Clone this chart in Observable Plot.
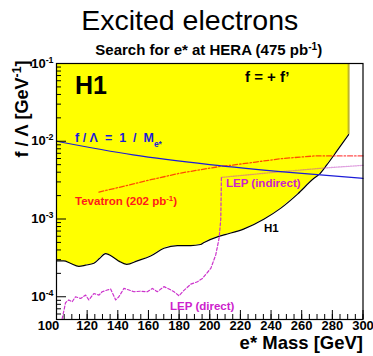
<!DOCTYPE html>
<html>
<head>
<meta charset="utf-8">
<script src="https://cdn.jsdelivr.net/npm/d3@7"></script>
<script src="https://cdn.jsdelivr.net/npm/@observablehq/plot@0.6"></script>
<style>
  html, body { margin: 0; padding: 0; background: white; }
  svg { display: block; }
</style>
</head>
<body>
<div id="chart"></div>
<script>
// ---- data ----
const h1Mass  = [100, 104.8, 109, 114.6, 119, 124.4, 128, 132, 137.5, 141, 145.8, 152.7, 161.4, 170.1, 178.9, 187.6, 194, 196.3, 205, 210, 222.4, 235.5, 246.4, 257.3, 268.2, 271, 276.5, 283, 290.6];
const h1Limit = [2.9e-4, 2.9e-4, 2.7e-4, 2.46e-4, 2.55e-4, 2.7e-4, 3.1e-4, 3.59e-4, 3.18e-4, 2.85e-4, 2.61e-4, 2.9e-4, 3.35e-4, 4.2e-4, 4.55e-4, 4.55e-4, 4.7e-4, 5.0e-4, 5.9e-4, 6.3e-4, 7.46e-4, 1.0e-3, 1.38e-3, 2.09e-3, 3.36e-3, 3.69e-3, 5.0e-3, 7.5e-3, 1.22e-2];

const blueMass  = [100, 150, 200, 250, 300];
const blueLimit = [0.01, 0.00667, 0.005, 0.004, 0.00333];

const tevMass  = [127.7, 143.6, 161.4, 181, 207.2, 213.7, 230, 246.4, 268.2, 300];
const tevLimit = [2.22e-3, 2.63e-3, 3.2e-3, 3.9e-3, 4.76e-3, 4.9e-3, 5.4e-3, 5.97e-3, 6.47e-3, 6.47e-3];

const lepIndMass  = [207.6, 240, 274.7, 300];
const lepIndLimit = [3.43e-3, 3.95e-3, 4.53e-3, 4.9e-3];

const lepDirMass  = [103.7, 105.9, 108, 110.2, 112.4, 115.7, 119, 121.1, 124.4, 127.7, 129.8, 133.1, 135.3, 138.6, 140.7, 144, 147.3, 150.5, 154.9, 159.3, 162.5, 165.8, 170.1, 173.4, 176.7, 179.9, 183, 187.6, 192, 195.2, 200.7, 203.9, 206.1, 207.2, 207.6];
const lepDirLimit = [5.2e-5, 8.4e-5, 9.1e-5, 8.6e-5, 1.0e-4, 9.5e-5, 1.05e-4, 9.1e-5, 1.1e-4, 1.05e-4, 1.16e-4, 1.22e-4, 1.26e-4, 9.1e-5, 1.0e-4, 1.28e-4, 1.22e-4, 1.16e-4, 1.18e-4, 1.16e-4, 1.28e-4, 1.16e-4, 1.35e-4, 1.26e-4, 1.16e-4, 1.03e-4, 1.2e-4, 1.45e-4, 1.56e-4, 1.72e-4, 2.32e-4, 3.45e-4, 5.66e-4, 1.0e-3, 3.43e-3];

const xDomain = [100, 300];
const yDomain = [5.1e-5, 0.1];
const xMajor = [100, 120, 140, 160, 180, 200, 220, 240, 260, 280, 300];
const xMinor = d3.range(100, 301, 5);
const yMajor = [1e-4, 1e-3, 1e-2, 1e-1];
const yMinor = [-5, -4, -3, -2].flatMap(k => d3.range(2, 10).map(m => m * Math.pow(10, k)));

const titleText = "Excited electrons";
const subtitleText = "Search for e* at HERA (475 pb^{-1})";
const xLabel = "e* Mass [GeV]";
const yLabel = "f / Λ [GeV^{-1}]";

// ---- tables built from the arrays ----
const zip = (xs, ys) => xs.map((m, i) => ({m, f: ys[i]}));
const h1 = zip(h1Mass, h1Limit);
const blue = zip(blueMass, blueLimit);
const tev = zip(tevMass, tevLimit);
const lepInd = zip(lepIndMass, lepIndLimit);
const lepDir = zip(lepDirMass, lepDirLimit);
const h1Edge = h1[h1.length - 1];

const W = 373, H = 356, mL = 56, mR = 10.5, mT = 63, mB = 37;
const innerW = W - mL - mR, innerH = H - mT - mB;
const font = "'Liberation Sans', Arial, Helvetica, sans-serif";
const supFmt = d => "10^{" + Math.round(Math.log10(d)) + "}";
const tickText = {tickSize: 0, tickPadding: 1, label: null, fontSize: 13, fontWeight: "bold", tickFormat: d => String(d)};

const chart = Plot.plot({
  width: W, height: H,
  marginLeft: mL, marginRight: mR, marginTop: mT, marginBottom: mB,
  x: {domain: xDomain, axis: null},
  y: {type: "log", domain: yDomain, axis: null},
  style: {fontFamily: font, background: "white", color: "black", overflow: "visible"},
  marks: [
    Plot.areaY(h1, {x: "m", y1: "f", y2: yDomain[1], fill: "#ffff00", curve: "monotone-x"}),
    Plot.ruleX([h1Edge], {x: "m", y1: "f", y2: yDomain[1], stroke: "#bdb42a", strokeWidth: 2}),
    Plot.line(h1, {x: "m", y: "f", stroke: "black", strokeWidth: 1.2, curve: "monotone-x"}),
    Plot.line(lepInd, {x: "m", y: "f", stroke: "#c040c0", strokeOpacity: 0.5, strokeWidth: 1.3, strokeDasharray: "1.2,1.2"}),
    Plot.line(tev, {x: "m", y: "f", stroke: "#ff0000", strokeOpacity: 0.7, strokeWidth: 1.3, strokeDasharray: "5,2,1.5,2"}),
    Plot.line(blue, {x: "m", y: "f", stroke: "#1c1cd8", strokeWidth: 1.2, curve: "monotone-x"}),
    Plot.line(lepDir, {x: "m", y: "f", stroke: "#cc33cc", strokeWidth: 1.2, strokeDasharray: "3,2"}),

    // ticks inside the frame
    Plot.tickX(xMinor, {x: d => d, insetTop: innerH - 5, stroke: "black"}),
    Plot.tickX(xMajor, {x: d => d, insetTop: innerH - 9, stroke: "black"}),
    Plot.tickY(yMinor.filter(d => d >= yDomain[0] && d <= yDomain[1]), {y: d => d, insetRight: innerW - 5, stroke: "black"}),
    Plot.tickY(yMajor, {y: d => d, insetRight: innerW - 10, stroke: "black"}),
    Plot.frame({stroke: "black", strokeWidth: 1.2}),

    // axis tick labels (the first x label sits a little left, as in the reference)
    Plot.axisX({...tickText, ticks: xMajor.slice(1)}),
    Plot.axisX({...tickText, ticks: xMajor.slice(0, 1), dx: -8}),
    Plot.axisY({ticks: yMajor, tickSize: 0, tickPadding: 3, label: null, fontSize: 13, fontWeight: "bold", tickFormat: supFmt}),

    // annotations
    Plot.text(["H1"], {x: 112.1, y: 0.0401, text: d => d, textAnchor: "start", lineAnchor: "bottom", fontSize: 25, fontWeight: "bold"}),
    Plot.text(["f = + f’"], {x: 223, y: 0.0582, text: d => d, textAnchor: "start", lineAnchor: "bottom", fontSize: 15, fontWeight: "bold"}),
    Plot.text(["f / Λ  =  1  /  M_{e*}"], {x: 112.1, y: 0.0097, text: d => d, textAnchor: "start", lineAnchor: "bottom", fontSize: 12.5, fontWeight: "bold", fill: "#1c1cd8"}),
    Plot.text(["Tevatron (202 pb^{-1})"], {x: 112.1, y: 1.52e-3, text: d => d, textAnchor: "start", lineAnchor: "bottom", fontSize: 11.5, fontWeight: "bold", fill: "#ff1a1a"}),
    Plot.text(["LEP (indirect)"], {x: 210.6, y: 2.55e-3, text: d => d, textAnchor: "start", lineAnchor: "bottom", fontSize: 11.5, fontWeight: "bold", fill: "#cc22cc"}),
    Plot.text(["H1"], {x: 235.4, y: 6.9e-4, text: d => d, textAnchor: "start", lineAnchor: "bottom", fontSize: 11.5, fontWeight: "bold"}),
    Plot.text(["LEP (direct)"], {x: 174.1, y: 6.8e-5, text: d => d, textAnchor: "start", lineAnchor: "bottom", fontSize: 11.5, fontWeight: "bold", fill: "#cc22cc"}),

    // titles and axis titles
    Plot.text([titleText], {frameAnchor: "top", text: d => d, dx: -20, dy: -33.5, lineAnchor: "bottom", fontSize: 28.5}),
    Plot.text([subtitleText], {frameAnchor: "top", text: d => d, dx: -1, dy: -8.5, lineAnchor: "bottom", fontSize: 15, fontWeight: "bold"}),
    Plot.text([xLabel], {frameAnchor: "bottom-right", text: d => d, dy: 29, textAnchor: "end", lineAnchor: "bottom", fontSize: 18.5, fontWeight: "bold"}),
    Plot.text([yLabel], {frameAnchor: "top-left", text: d => d, dx: -29, dy: -3, rotate: -90, textAnchor: "end", lineAnchor: "bottom", fontSize: 18, fontWeight: "bold"})
  ]
});

// turn ^{..} and _{..} into real superscript / subscript tspans
function rich(svg) {
  svg.querySelectorAll("text").forEach(t => {
    if (t.querySelector("tspan")) {
      t.querySelectorAll("tspan").forEach(sp => richNode(sp));
    } else richNode(t);
  });
}
function richNode(t) {
  const s = t.textContent;
  if (!/[\^_]\{/.test(s)) return;
  while (t.firstChild) t.removeChild(t.firstChild);
  const re = /([\^_])\{([^}]*)\}|([^\^_]+)/g;
  let m;
  while ((m = re.exec(s))) {
    const ts = document.createElementNS("http://www.w3.org/2000/svg", "tspan");
    if (m[1]) {
      ts.textContent = m[2];
      ts.setAttribute("font-size", "68%");
      ts.setAttribute("baseline-shift", m[1] === "^" ? "super" : "sub");
    } else ts.textContent = m[3];
    t.appendChild(ts);
  }
}
rich(chart);
document.getElementById("chart").appendChild(chart);
</script>
</body>
</html>
